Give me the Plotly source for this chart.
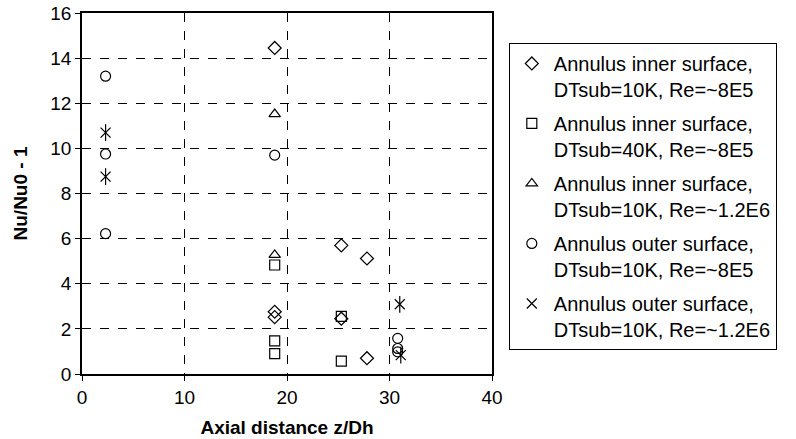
import plotly.graph_objects as go

# Data
inner10_8e5_x = [18.8, 18.8, 18.8, 25.3, 27.8, 27.8, 25.3]
inner10_8e5_y = [14.45, 2.76, 2.52, 5.7, 5.12, 0.70, 2.45]

inner40_8e5_x = [18.8, 18.8, 18.8, 25.3, 25.3]
inner40_8e5_y = [4.83, 1.47, 0.90, 2.55, 0.57]

inner10_12e6_x = [18.8, 18.8]
inner10_12e6_y = [11.52, 5.28]

outer10_8e5_x = [2.3, 2.3, 2.3, 18.8, 30.8, 30.8, 30.8]
outer10_8e5_y = [13.2, 9.75, 6.22, 9.7, 1.58, 1.13, 0.98]

outer10_12e6_x = [2.3, 2.3, 31.0, 31.1]
outer10_12e6_y = [10.7, 8.75, 3.09, 0.84]

names = [
    "Annulus inner surface,<br>DTsub=10K, Re=~8E5",
    "Annulus inner surface,<br>DTsub=40K, Re=~8E5",
    "Annulus inner surface,<br>DTsub=10K, Re=~1.2E6",
    "Annulus outer surface,<br>DTsub=10K, Re=~8E5",
    "Annulus outer surface,<br>DTsub=10K, Re=~1.2E6",
]

x_ticks = [0, 10, 20, 30, 40]
y_ticks = [0, 2, 4, 6, 8, 10, 12, 14, 16]

FONT = "Liberation Sans, Arial, sans-serif"

fig = go.Figure()

def add(x, y, name, symbol, size, show=True, group=None):
    fig.add_trace(go.Scatter(
        x=x, y=y, mode="markers", name=name, showlegend=show,
        legendgroup=group,
        marker=dict(symbol=symbol, size=size, color="black",
                    line=dict(color="black", width=1.2)),
    ))

add(inner10_8e5_x, inner10_8e5_y, names[0], "diamond-open", 10)
add(inner40_8e5_x, inner40_8e5_y, names[1], "square-open", 10)
add(inner10_12e6_x, inner10_12e6_y, names[2], "triangle-up-open", 10)
add(outer10_8e5_x, outer10_8e5_y, names[3], "circle-open", 10)
add(outer10_12e6_x, outer10_12e6_y, names[4], "x-thin-open", 10, group="star")
add(outer10_12e6_x, outer10_12e6_y, names[4], "line-ns-open", 12, show=False, group="star")

axis_common = dict(
    showline=True, linecolor="black", linewidth=1.5, mirror=True,
    ticks="outside", ticklen=5, tickcolor="black", tickwidth=1,
    showgrid=True, gridcolor="black", gridwidth=1, griddash="dash",
    zeroline=False, automargin=False,
    tickfont=dict(family=FONT, size=19, color="black"),
)

fig.update_xaxes(range=[0, 40], tickvals=x_ticks,
                 title=dict(text="<b>Axial distance z/Dh</b>",
                            font=dict(family=FONT, size=19, color="black"),
                            standoff=14),
                 **axis_common)
fig.update_yaxes(range=[0, 16], tickvals=y_ticks,
                 title=dict(text="<b>Nu/Nu0 - 1</b>",
                            font=dict(family=FONT, size=19, color="black"),
                            standoff=18),
                 **axis_common)

fig.update_layout(
    width=796, height=439,
    margin=dict(l=82, r=304, t=13, b=65),
    plot_bgcolor="white", paper_bgcolor="white",
    font=dict(family=FONT, size=19, color="black"),
    legend=dict(
        x=1.041, y=0.917, xanchor="left", yanchor="top",
        bordercolor="black", borderwidth=1, bgcolor="white",
        font=dict(family=FONT, size=20, color="black"),
        valign="top", tracegroupgap=5, itemwidth=34,
    ),
)

fig.write_html("out.html")
